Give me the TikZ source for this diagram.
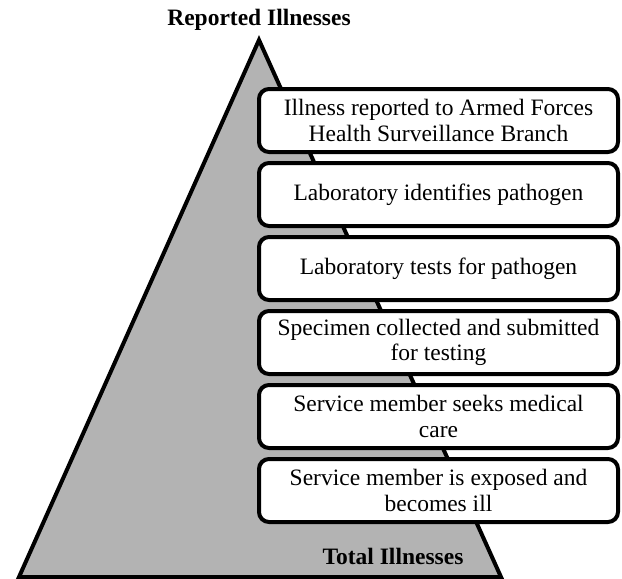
\documentclass[tikz,border=0pt]{standalone}
\usepackage{fontspec}
\setmainfont{Liberation Serif}
\usetikzlibrary{positioning}
\definecolor{pyrgray}{RGB}{179,179,179}
\tikzset{stage/.style={draw,line width=4pt,rounded corners=10pt,fill=white,
  minimum width=359pt,minimum height=63pt,inner sep=0pt,align=center,
  font=\fontsize{23.5}{25.5}\selectfont},
  caption/.style={font=\bfseries\fontsize{23.5}{26}\selectfont}}

\begin{document}
\begin{tikzpicture}[x=1pt,y=-1pt]
\useasboundingbox (0,0) rectangle (622,579);
\coordinate (A) at (259,40);
\coordinate (L) at (19,577);
\coordinate (R) at (501,577);
\draw[line width=4pt,fill=pyrgray](L)--(A)--(R)--cycle;
\node[caption] (top) at (259,20) {Reported Illnesses};
\node[caption] (base) at (393,556) {Total Illnesses};
\node[stage] (b1) at (438.5,120.5) {Illness reported to Armed Forces\\Health Surveillance Branch};
\node[stage,below=7pt of b1] (b2) {Laboratory identifies pathogen};
\node[stage,below=7pt of b2] (b3) {Laboratory tests for pathogen};
\node[stage,below=7pt of b3] (b4) {Specimen collected and submitted\\for testing};
\node[stage,below=7pt of b4] (b5) {Service member seeks medical\\care};
\node[stage,below=7pt of b5] (b6) {Service member is exposed and\\becomes ill};
\end{tikzpicture}
\end{document}
